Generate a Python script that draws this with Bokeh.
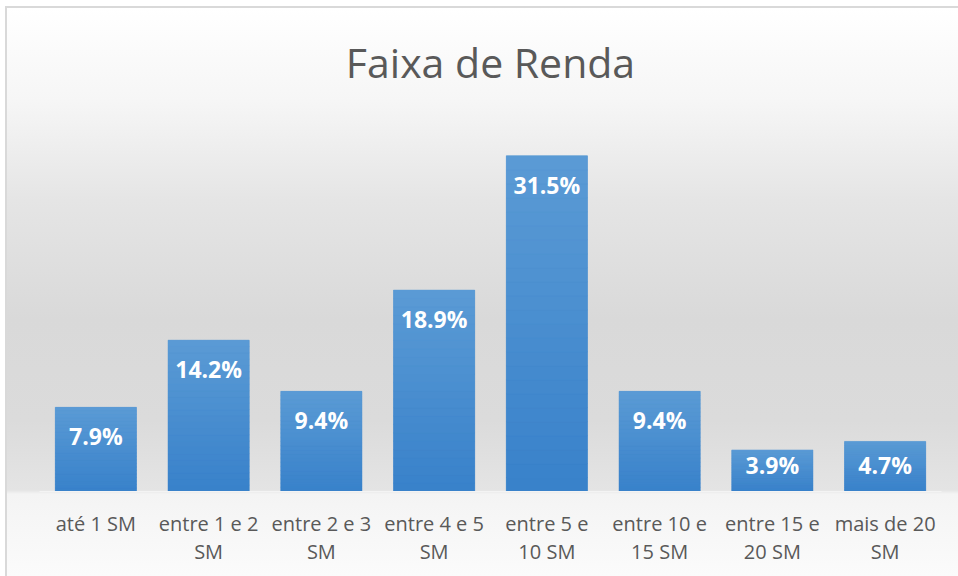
import numpy as np
from bokeh.plotting import figure
from bokeh.models import ColumnDataSource, Range1d, FixedTicker
from bokeh.core.properties import value
from bokeh.embed import file_html
from bokeh.resources import INLINE

categories = ["até 1 SM", "entre 1 e 2 SM", "entre 2 e 3 SM", "entre 4 e 5 SM",
              "entre 5 e 10 SM", "entre 10 e 15 SM", "entre 15 e 20 SM", "mais de 20 SM"]
tick_labels = ["até 1 SM", "entre 1 e 2\nSM", "entre 2 e 3\nSM", "entre 4 e 5\nSM",
               "entre 5 e\n10 SM", "entre 10 e\n15 SM", "entre 15 e\n20 SM", "mais de 20\nSM"]
values = [7.9, 14.2, 9.4, 18.9, 31.5, 9.4, 3.9, 4.7]
value_labels = ["7.9%", "14.2%", "9.4%", "18.9%", "31.5%", "9.4%", "3.9%", "4.7%"]

W, H = 958, 576
pos = list(np.arange(len(categories)) + 0.5)

p = figure(x_range=Range1d(0, len(categories)), y_range=Range1d(0, 35), width=W, height=H,
           output_backend="svg", toolbar_location=None,
           min_border_left=39, min_border_right=17, min_border_top=118, min_border_bottom=85)

p.background_fill_alpha = 0
p.border_fill_alpha = 0
p.outline_line_color = None
grad = ("linear-gradient(to bottom, #ffffff 0px, #f6f6f6 92px, #e5e5e5 192px, "
        "#d9d9d9 312px, #dbdbdb 412px, #e4e4e4 482px, #f4f4f4 486px, #fbfbfb 568px)")
p.styles = {
    "background": ("linear-gradient(#d9d9d9, #d9d9d9) 5px 6px / 2px 100% no-repeat, "
                   "linear-gradient(#d9d9d9, #d9d9d9) 5px 6px / 100% 2px no-repeat, "
                   + grad + " 7px 8px / 100% 100% no-repeat, #ffffff"),
}

p.title.text = "Faixa de Renda"
p.title.align = "center"
p.title.text_font = "Open Sans"
p.title.text_font_style = "normal"
p.title.text_font_size = "41px"
p.title.text_color = "#595959"
p.title.standoff = 58

# inside-end labels; short bars keep the label inside the bar
label_y = np.maximum(values, 5.25)
src = ColumnDataSource(dict(x=pos, cat=categories, val=values, lab=value_labels, ly=label_y))
p.vbar(x="x", top="val", bottom=0, width=0.72, source=src,
       fill_color="#4a8ed0", line_color=None)

# gradient overlay bands derived from the bar values
N = 24
top_c = np.array([0x5b, 0x9b, 0xd5])
bot_c = np.array([0x38, 0x81, 0xca])
bx, bb, bt, bc = [], [], [], []
for xx, v in zip(pos, values):
    for k in range(N):
        f = (k + 0.5) / N
        col = bot_c + (top_c - bot_c) * f
        bx.append(xx)
        bb.append(v * k / N)
        bt.append(v * (k + 1) / N)
        bc.append("#%02x%02x%02x" % tuple(int(round(t)) for t in col))
p.vbar(x=bx, bottom=bb, top=bt, width=0.72, fill_color=bc, line_color=bc, line_width=0.5)

p.text(x="x", y="ly", text="lab", source=src, text_color="white",
       text_font=value("Open Sans"), text_font_style="bold", text_font_size="23px",
       text_align="center", text_baseline="middle", y_offset=29)

p.yaxis.visible = False
p.xgrid.grid_line_color = None
p.ygrid.grid_line_color = None
ax = p.xaxis[0]
ax.ticker = FixedTicker(ticks=pos)
ax.major_label_overrides = {float(k): v for k, v in zip(pos, tick_labels)}
ax.major_label_text_font = "Open Sans"
ax.major_label_text_font_size = "20px"
ax.major_label_text_color = "#595959"
ax.major_label_text_line_height = 1.06
ax.major_label_standoff = 12
ax.major_tick_line_color = None
ax.minor_tick_line_color = None
ax.axis_line_color = "#f4f4f4"
ax.axis_line_width = 1

open("out.html", "w").write(file_html(p, INLINE))
